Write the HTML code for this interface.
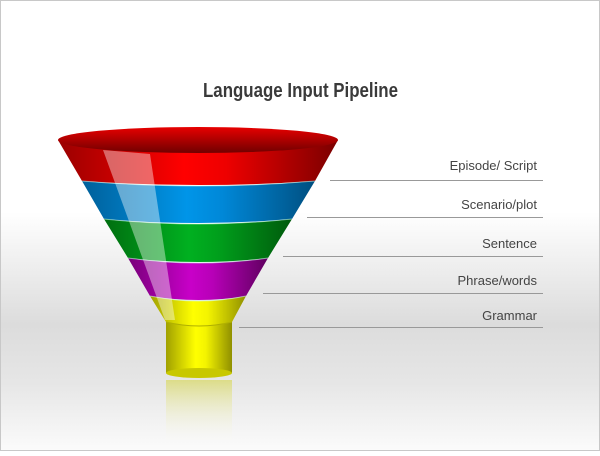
<!DOCTYPE html>
<html><head><meta charset="utf-8"><style>
html,body{margin:0;padding:0;}
body{width:600px;height:451px;overflow:hidden;background:#fff;}
</style></head><body>
<svg width="600" height="451" viewBox="0 0 600 451" xmlns="http://www.w3.org/2000/svg">
<defs>
<linearGradient id="bg" x1="0" y1="0" x2="0" y2="1">
<stop offset="0" stop-color="#fff"/><stop offset="0.47" stop-color="#fff"/><stop offset="0.72" stop-color="#dcdcdc"/><stop offset="0.85" stop-color="#e6e6e6"/><stop offset="1" stop-color="#fbfbfb"/>
</linearGradient>
<linearGradient id="r" x1="0" x2="1"><stop offset="0" stop-color="#9a0000"/><stop offset="0.45" stop-color="#ff0000"/><stop offset="0.6" stop-color="#ee0000"/><stop offset="1" stop-color="#7a0000"/></linearGradient>
<linearGradient id="b" x1="0" x2="1"><stop offset="0" stop-color="#00609a"/><stop offset="0.45" stop-color="#0095e8"/><stop offset="0.6" stop-color="#0088d8"/><stop offset="1" stop-color="#004f80"/></linearGradient>
<linearGradient id="g" x1="0" x2="1"><stop offset="0" stop-color="#006e10"/><stop offset="0.45" stop-color="#00b020"/><stop offset="0.6" stop-color="#00a01c"/><stop offset="1" stop-color="#005a0c"/></linearGradient>
<linearGradient id="m" x1="0" x2="1"><stop offset="0" stop-color="#78007a"/><stop offset="0.45" stop-color="#c800c8"/><stop offset="0.6" stop-color="#b800b8"/><stop offset="1" stop-color="#600060"/></linearGradient>
<linearGradient id="y" x1="0" x2="1"><stop offset="0" stop-color="#a0a000"/><stop offset="0.45" stop-color="#ffff00"/><stop offset="0.6" stop-color="#f4f400"/><stop offset="1" stop-color="#909000"/></linearGradient>
<linearGradient id="top" x1="0" y1="0" x2="0" y2="1"><stop offset="0" stop-color="#e80000"/><stop offset="1" stop-color="#700000"/></linearGradient>
<linearGradient id="refl" x1="0" y1="0" x2="0" y2="1"><stop offset="0" stop-color="#d8d860" stop-opacity="0.7"/><stop offset="1" stop-color="#fff" stop-opacity="0"/></linearGradient>
</defs>
<rect x="0.5" y="0.5" width="599" height="450" fill="url(#bg)" stroke="#c8c8c8"/>
<text x="203" y="97" textLength="195" lengthAdjust="spacingAndGlyphs" font-family="Liberation Sans, sans-serif" font-weight="bold" font-size="20" fill="#3a3a3a">Language Input Pipeline</text>
<rect x="166" y="380" width="66" height="66" fill="url(#refl)"/>
<rect x="166" y="322" width="66" height="51" fill="url(#y)"/>
<ellipse cx="199" cy="373" rx="33" ry="5" fill="#c8c800"/>
<path d="M150,296 Q199,306 246,296 L232,322 Q199,330 166,322 Z" fill="url(#y)"/>
<path d="M166,322 Q199,330 232,322" stroke="#b0b000" fill="none"/>
<path d="M128,258 Q199,268 268,258 L246,296 Q199,304 150,296 Z" fill="url(#m)"/>
<path d="M104,219 Q199,229 292,219 L268,258 Q199,266 128,258 Z" fill="url(#g)"/>
<path d="M82,181 Q199,191 315,181 L292,219 Q199,227 104,219 Z" fill="url(#b)"/>
<path d="M58,140 Q198,156 338,140 L315,181 Q199,189 82,181 Z" fill="url(#r)"/>
<ellipse cx="198" cy="140" rx="140" ry="13" fill="url(#top)"/>
<g stroke="#cfe" stroke-opacity="0.5" stroke-width="1" fill="none">
<path d="M82,181 Q199,191 315,181"/><path d="M104,219 Q199,229 292,219"/><path d="M128,258 Q199,268 268,258"/><path d="M150,296 Q199,306 246,296"/>
</g>
<path d="M103,150 L150,154 L175,320 L165,320 Z" fill="#fff" fill-opacity="0.4"/>
<g stroke="#999" stroke-width="1">
<line x1="330" y1="180.5" x2="543" y2="180.5"/>
<line x1="307" y1="217.5" x2="543" y2="217.5"/>
<line x1="283" y1="256.5" x2="543" y2="256.5"/>
<line x1="263" y1="293.5" x2="543" y2="293.5"/>
<line x1="239" y1="327.5" x2="543" y2="327.5"/>
</g>
<g font-family="Liberation Sans, sans-serif" font-size="13" fill="#444" text-anchor="end">
<text x="537" y="170">Episode/ Script</text>
<text x="537" y="209">Scenario/plot</text>
<text x="537" y="248">Sentence</text>
<text x="537" y="285">Phrase/words</text>
<text x="537" y="320">Grammar</text>
</g>
</svg>
</body></html>
